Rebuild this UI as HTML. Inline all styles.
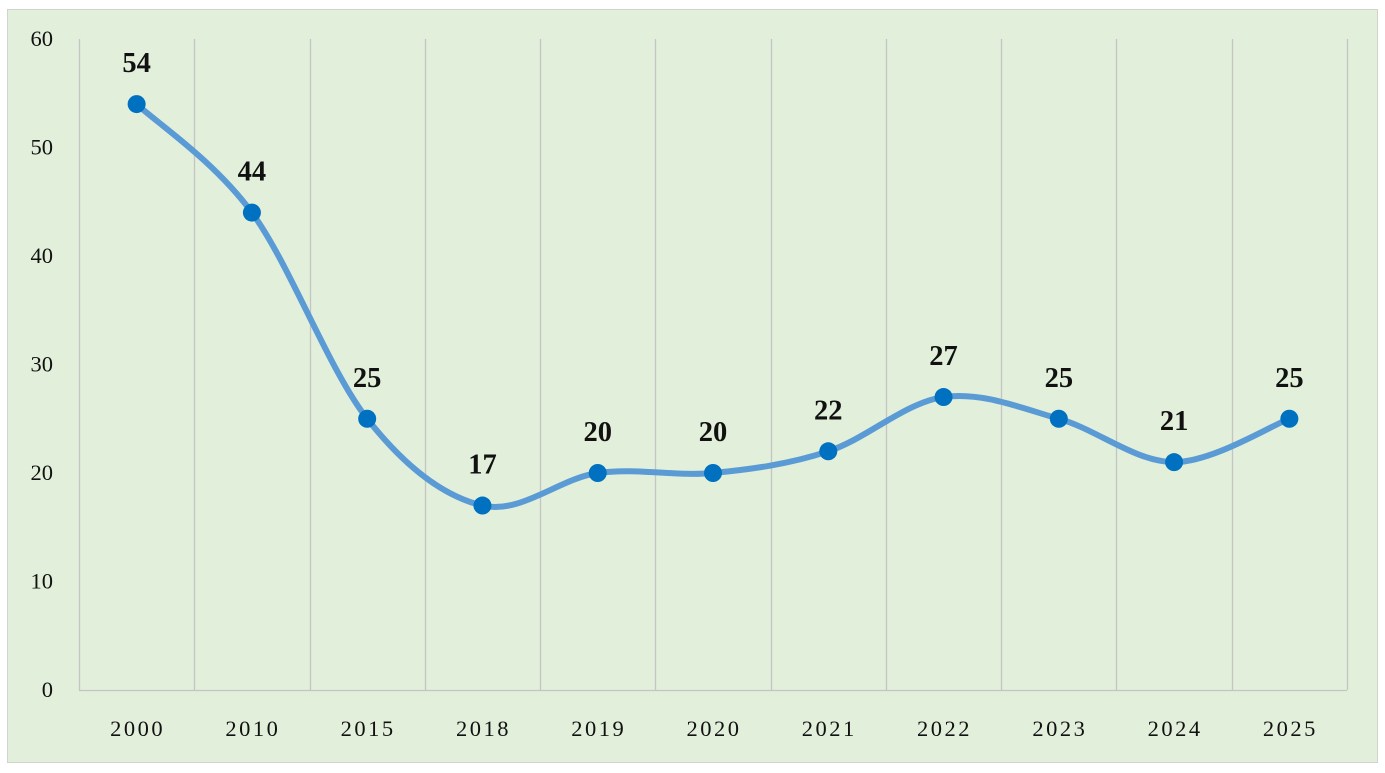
<!DOCTYPE html>
<html><head><meta charset="utf-8"><style>
html,body{margin:0;padding:0;background:#fff;}
svg{display:block;font-family:"Liberation Serif",serif;}
</style></head><body>
<svg id="chart" width="1385" height="773">
<rect x="7.5" y="9.5" width="1370" height="753" fill="#e2efda" stroke="#d0d4cc"/>
<g id="grid"></g><g id="axes"></g><g id="series"></g><g id="labels"></g>
</svg>
<script>
const categories=["2000","2010","2015","2018","2019","2020","2021","2022","2023","2024","2025"];
const values=[54,44,25,17,20,20,22,27,25,21,25];
const yTicks=[0,10,20,30,40,50,60];
const NS="http://www.w3.org/2000/svg";
const L=79,R=1347,T=39,B=690,YMAX=60;
const bw=(R-L)/categories.length;
const xS=i=>L+bw*(i+0.5);
const yS=v=>B-(v/YMAX)*(B-T);
function mk(tag,attrs,parent,text){const e=document.createElementNS(NS,tag);for(const k in attrs)e.setAttribute(k,attrs[k]);if(text!==undefined)e.textContent=text;document.getElementById(parent).appendChild(e);return e;}
for(let i=0;i<=categories.length;i++){
  const x=Math.round(L+bw*i)+0.5;
  const g=mk('line',{x1:x,x2:x,y1:T,y2:B,stroke:'#c4c4c4','stroke-width':1.3},'grid');
  
  
}
const ax=mk('line',{x1:L,x2:R,y1:B+0.5,y2:B+0.5,stroke:'#c4c4c4','stroke-width':1.3},'axes');


yTicks.forEach(t=>{
  const e=mk('text',{x:53,y:yS(t)+7,'text-anchor':'end','font-size':22.5,fill:'#111'},'axes',t);
  
  
});
categories.forEach((c,i)=>{
  const e=mk('text',{x:xS(i)+1,y:736,'text-anchor':'middle','font-size':22.5,fill:'#111','letter-spacing':'2.5'},'axes',c);
  
  
});
const pts=values.map((v,i)=>[xS(i),yS(v)]);
let d=`M${pts[0][0]},${pts[0][1]}`;
for(let i=0;i<pts.length-1;i++){
  const p0=pts[Math.max(0,i-1)],p1=pts[i],p2=pts[i+1],p3=pts[Math.min(pts.length-1,i+2)];
  const c1=[p1[0]+(p2[0]-p0[0])/6,p1[1]+(p2[1]-p0[1])/6];
  const c2=[p2[0]-(p3[0]-p1[0])/6,p2[1]-(p3[1]-p1[1])/6];
  d+=` C${c1[0]},${c1[1]} ${c2[0]},${c2[1]} ${p2[0]},${p2[1]}`;
}
const line=mk('path',{d:d,fill:'none',stroke:'#5b9bd5','stroke-width':6,'stroke-linecap':'round'},'series');


pts.forEach((p,i)=>{
  const c=mk('circle',{cx:p[0],cy:p[1],r:9,fill:'#0070c0'},'series');
  
  
  const t=mk('text',{x:p[0],y:p[1]-32,'text-anchor':'middle','font-size':28.5,'font-weight':'bold',fill:'#111'},'labels',values[i]);
  
  
});
</script>
</body></html>
